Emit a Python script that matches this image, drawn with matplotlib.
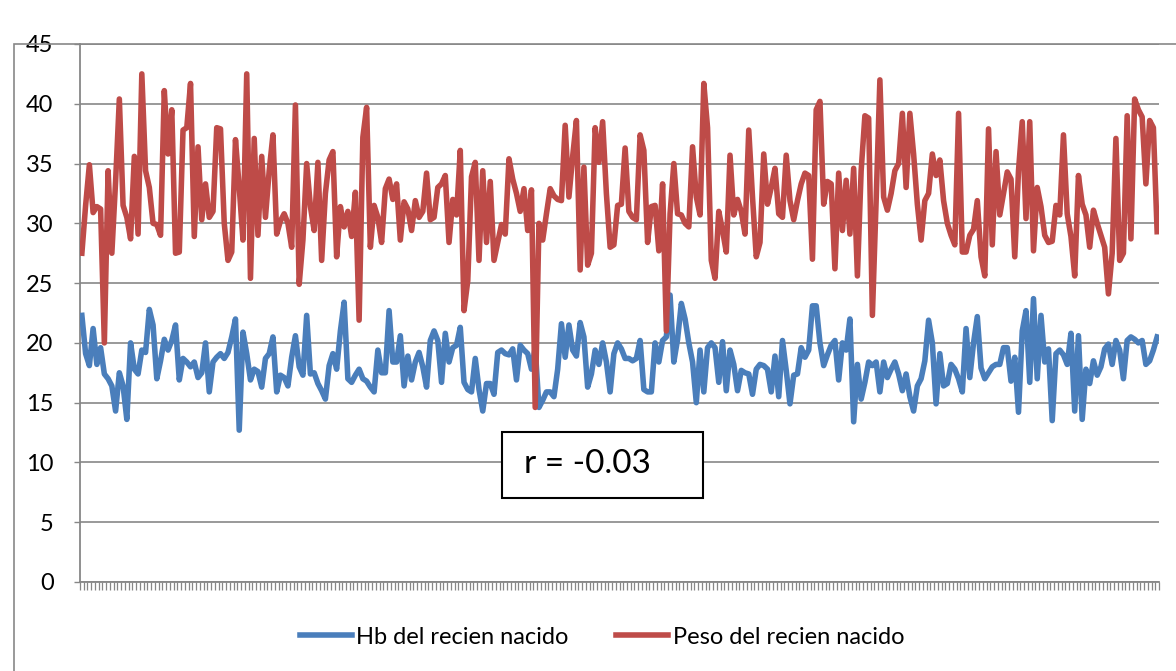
import matplotlib
matplotlib.use("Agg")
import matplotlib.pyplot as plt
from matplotlib.patches import Rectangle
import numpy as np

# ---- data ----
hb_part1 = [22.3, 19.1, 18.1, 21.2, 18.2, 19.6, 17.4, 17.0, 16.4, 14.3, 17.5, 16.4, 13.6, 20.0, 17.8, 17.4,
            19.4, 19.2, 22.8, 21.5, 17.0, 18.5, 20.3, 19.4, 20.2, 21.5, 16.9, 18.7, 18.4, 18.0, 18.4, 17.1,
            17.5, 20.0, 15.9, 18.4, 18.8, 19.1, 18.7, 19.2, 20.5, 22.0, 12.7, 20.9, 19.1, 16.9, 17.8, 17.6]
hb_part2 = [16.3, 18.7, 19.1, 20.5, 15.9, 17.3, 17.1, 16.4, 18.8, 20.6, 18.0, 17.3, 22.3, 17.4, 17.5, 16.6,
            16.0, 15.3, 18.1, 19.1, 17.8, 21.0, 23.4, 17.0, 16.7, 17.3, 17.8, 17.0, 16.8, 16.3, 15.9, 19.4,
            17.5, 17.5, 22.7, 18.4, 18.4, 20.6, 16.4, 18.9, 16.9, 18.4, 19.2, 18.0, 16.3, 20.2, 21.0, 20.2]
hb_part3 = [16.7, 20.8, 18.4, 19.6, 19.8, 21.3, 16.7, 16.1, 15.9, 18.7, 16.1, 14.3, 16.6, 16.6, 15.7, 19.2,
            19.4, 19.1, 19.0, 19.5, 16.9, 19.8, 19.4, 19.1, 17.8, 19.6, 14.6, 15.2, 15.9, 15.9, 15.5, 17.8,
            21.6, 18.8, 21.5, 19.4, 18.9, 21.7, 20.5, 16.3, 17.4, 19.4, 18.2, 20.0, 18.4, 15.9, 19.1, 20.0]
hb_part4 = [19.5, 18.7, 18.7, 18.5, 18.7, 20.2, 16.1, 15.9, 15.9, 20.0, 18.4, 20.2, 20.5, 24.0, 18.4, 20.3,
            23.3, 22.0, 20.0, 18.4, 15.0, 19.4, 15.9, 19.6, 20.0, 19.6, 16.7, 20.1, 16.0, 19.4, 18.2, 16.0,
            17.7, 17.5, 17.4, 15.7, 17.8, 18.2, 18.1, 17.8, 15.9, 18.9, 15.5, 20.2, 17.7, 14.9, 17.3, 17.4]
hb_part5 = [19.6, 18.8, 19.4, 23.1, 23.1, 20.0, 18.1, 19.0, 19.8, 20.2, 16.9, 20.0, 19.4, 22.0, 13.4, 18.2,
            15.3, 16.7, 18.4, 18.1, 18.4, 15.9, 18.4, 17.1, 17.8, 18.4, 17.4, 16.0, 17.4, 15.5, 14.3, 16.4,
            17.0, 18.5, 21.9, 20.0, 14.9, 19.1, 16.4, 16.6, 18.2, 17.8, 17.0, 15.9, 21.2, 17.1, 20.0, 22.2]
hb_part6 = [17.9, 17.0, 17.5, 18.0, 18.2, 18.2, 19.6, 19.6, 16.8, 18.8, 14.2, 21.0, 22.7, 16.7, 23.7, 17.0,
            22.3, 18.4, 19.5, 13.5, 19.1, 19.4, 19.0, 18.2, 20.8, 14.3, 20.6, 13.6, 17.8, 16.6, 18.5, 17.3,
            18.0, 19.5, 19.9, 18.2, 20.2, 19.4, 17.0, 20.2, 20.5, 20.3, 20.0, 20.2, 18.2, 18.5, 19.4, 20.5]

peso_part1 = [27.5, 31.5, 34.9, 30.9, 31.4, 31.2, 20.0, 34.4, 27.5, 33.5, 40.4, 31.5, 30.5, 28.7, 35.6, 29.1,
              42.5, 34.4, 33.0, 30.0, 29.9, 29.0, 41.1, 35.8, 39.5, 27.5, 27.6, 37.8, 38.0, 41.7, 28.9, 36.4,
              30.3, 33.3, 30.5, 31.0, 38.0, 37.9, 30.0, 26.9, 27.6, 37.0, 33.0, 28.6, 42.5, 25.4, 37.1, 29.0]
peso_part2 = [35.6, 30.5, 34.4, 37.4, 29.1, 30.2, 30.8, 30.0, 28.0, 39.9, 24.9, 28.6, 35.0, 31.4, 29.4, 35.1,
              26.9, 32.5, 35.3, 36.0, 27.2, 31.4, 29.7, 31.0, 28.9, 32.6, 21.9, 37.2, 39.7, 28.0, 31.5, 30.5,
              28.4, 32.9, 33.7, 32.0, 33.3, 28.6, 31.8, 31.2, 29.4, 31.9, 30.5, 31.0, 34.2, 30.3, 30.5, 33.0]
peso_part3 = [33.3, 34.0, 28.4, 32.0, 30.7, 36.1, 22.7, 25.2, 33.9, 35.1, 26.9, 34.4, 28.4, 33.5, 26.9, 28.4,
              29.9, 29.1, 35.4, 33.7, 32.5, 31.0, 32.9, 29.4, 32.8, 14.6, 30.0, 28.6, 30.8, 32.9, 32.3, 32.0,
              31.9, 38.2, 32.2, 35.6, 38.6, 26.1, 34.7, 26.5, 27.5, 38.0, 35.1, 38.5, 32.5, 28.0, 28.2, 31.5]
peso_part4 = [31.6, 36.3, 31.0, 30.5, 30.3, 37.4, 36.1, 28.4, 31.4, 31.5, 27.7, 33.3, 21.0, 30.8, 35.0, 30.8,
              30.7, 30.0, 29.7, 36.4, 32.2, 30.7, 41.7, 38.0, 26.9, 25.4, 31.0, 29.4, 27.6, 35.7, 30.7, 32.0,
              31.0, 29.1, 37.8, 32.2, 27.2, 28.4, 35.8, 31.6, 33.0, 34.6, 30.8, 30.5, 35.7, 31.9, 30.3, 31.9]
peso_part5 = [33.3, 34.2, 34.0, 27.0, 39.5, 40.2, 31.6, 33.5, 33.3, 26.2, 34.2, 29.4, 33.6, 29.1, 34.6, 25.6,
              34.4, 39.0, 38.8, 22.3, 31.9, 42.0, 32.2, 31.1, 32.5, 34.4, 35.0, 39.2, 33.0, 39.2, 35.8, 31.6,
              28.6, 31.9, 32.5, 35.8, 34.0, 35.3, 31.9, 30.0, 29.0, 28.2, 39.2, 27.6, 27.6, 29.0, 29.5, 31.9]
peso_part6 = [27.2, 25.6, 37.9, 28.2, 36.0, 30.7, 32.5, 34.3, 33.7, 27.2, 34.4, 38.5, 30.4, 38.5, 27.7, 33.0,
              31.4, 29.0, 28.4, 28.5, 31.5, 30.7, 37.4, 30.8, 28.9, 25.6, 34.0, 31.6, 30.7, 28.0, 31.1, 30.0,
              29.0, 28.0, 24.1, 27.5, 37.1, 26.9, 27.5, 39.0, 28.7, 40.4, 39.5, 38.9, 33.3, 38.6, 38.0, 29.3]

hb = hb_part1 + hb_part2 + hb_part3 + hb_part4 + hb_part5 + hb_part6
peso = peso_part1 + peso_part2 + peso_part3 + peso_part4 + peso_part5 + peso_part6

series_names = ["Hb del recien nacido", "Peso del recien nacido"]
y_ticks = [0, 5, 10, 15, 20, 25, 30, 35, 40, 45]
annotation = "r = -0.03"

# ---- styling ----
plt.rcParams['font.family'] = ['Lato', 'DejaVu Sans']
W, H = 1176, 671
fig = plt.figure(figsize=(W / 100, H / 100), dpi=100)
grid_col = "#878787"
blue = "#4A7EBB"
red = "#BE4B48"

# outer chart frame
fig.patches.append(Rectangle((14 / W, -0.05), 1.2, 1 - 44 / H + 0.05, transform=fig.transFigure,
                             fill=False, edgecolor=grid_col, linewidth=1.2, zorder=0))

ax = fig.add_axes([80 / W, 1 - 582 / H, 1079 / W, 538 / H])
n = len(hb)
x = np.arange(n)
ax.plot(x, hb, color=blue, lw=4.0, solid_joinstyle='round', label=series_names[0], zorder=3)
ax.plot(x, peso, color=red, lw=4.0, solid_joinstyle='round', label=series_names[1], zorder=3)

ax.set_xlim(-0.5, n - 0.5)
ax.set_ylim(0, 45)
ax.set_yticks(y_ticks)
ax.set_yticklabels([str(v) for v in y_ticks], fontsize=17)
ax.set_xticks(np.arange(n + 1) - 0.5)
ax.set_xticklabels([])
ax.tick_params(axis='x', length=5.5, width=0.9, color=grid_col, direction='out')
ax.tick_params(axis='y', length=4, width=1.0, color=grid_col, pad=15)
ax.yaxis.grid(True, color=grid_col, linewidth=1.2)
ax.set_axisbelow(True)
for s in ['top', 'right']:
    ax.spines[s].set_visible(False)
for s in ['left', 'bottom']:
    ax.spines[s].set_color(grid_col)
    ax.spines[s].set_linewidth(1.3)

# annotation box
fig.patches.append(Rectangle((502 / W, 1 - 498 / H), 201 / W, 66 / H, transform=fig.transFigure,
                             facecolor='white', edgecolor='black', linewidth=1.5, zorder=5))
fig.text(524 / W, 1 - 464 / H, annotation, fontsize=24, ha='left', va='center', zorder=6)

# legend
fig.legend(loc='center', bbox_to_anchor=(602 / W, 1 - 637 / H), ncol=2, frameon=False,
           fontsize=17, handlelength=2.2, handletextpad=0.2, columnspacing=2.0)

fig.savefig("out.png", dpi=100)
